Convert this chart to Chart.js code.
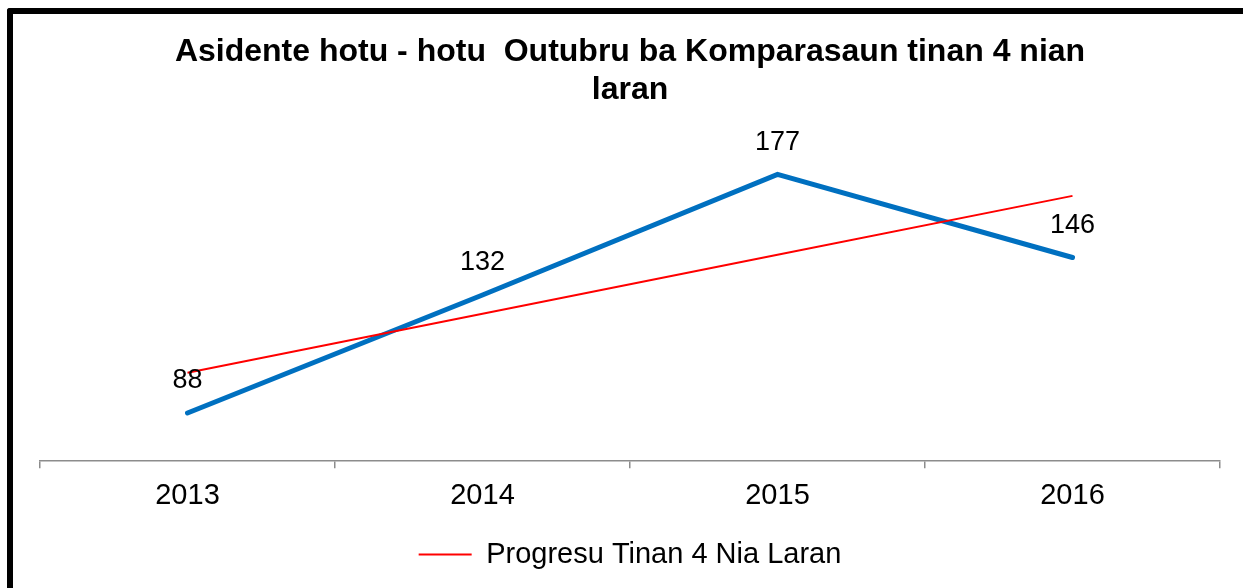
<!DOCTYPE html>
<html lang="tet">
<head>
<meta charset="utf-8">
<script src="https://cdn.jsdelivr.net/npm/chart.js@4.4.1/dist/chart.umd.min.js"></script>
<style>
  html, body { margin: 0; padding: 0; background: #fff; overflow: hidden; }
  .frame {
    position: absolute; left: 7px; top: 8px; width: 1400px; height: 800px;
    border-top: 6px solid #000; border-left: 6px solid #000;
    border-top-left-radius: 3px;
  }
  .chart-box { position: absolute; left: 0; top: 0; width: 1243px; height: 588px; }
</style>
</head>
<body>
<div class="frame"></div>
<div class="chart-box"><canvas id="chart"></canvas></div>
<script>
  const years = ['2013', '2014', '2015', '2016'];
  const accidents = [88, 132, 177, 146];
  // linha vermelha
  const progress = [103, 125, 147, 169];
  const titleLines = ['Asidente hotu - hotu  Outubru ba Komparasaun tinan 4 nian', 'laran'];

  const FONT = "'Liberation Sans', Arial, sans-serif";

  // etiketa valor iha leten pontu sira
  const valueLabels = {
    id: 'valueLabels',
    afterDatasetsDraw(chart) {
      const ctx = chart.ctx;
      const meta = chart.getDatasetMeta(1);
      ctx.save();
      ctx.font = '27px ' + FONT;
      ctx.fillStyle = '#000';
      ctx.textAlign = 'center';
      ctx.textBaseline = 'middle';
      meta.data.forEach((pt, i) => {
        ctx.fillText(String(accidents[i]), pt.x, pt.y - 32);
      });
      ctx.restore();
    }
  };

  new Chart(document.getElementById('chart'), {
    type: 'line',
    data: {
      labels: years,
      datasets: [
        {
          label: 'Progresu Tinan 4 Nia Laran',
          data: progress,
          borderColor: '#FF0000',
          backgroundColor: '#FF0000',
          borderWidth: 2,
          pointRadius: 0,
          tension: 0
        },
        {
          label: 'Asidente',
          data: accidents,
          borderColor: '#0070C0',
          backgroundColor: '#0070C0',
          borderWidth: 5,
          borderCapStyle: 'round',
          borderJoinStyle: 'miter',
          pointRadius: 0,
          tension: 0
        }
      ]
    },
    options: {
      responsive: true,
      maintainAspectRatio: false,
      animation: false,
      layout: { padding: { left: 40, right: 23, top: 0, bottom: 9 } },
      scales: {
        y: { display: false, min: 70, max: 200 },
        x: {
          offset: true,
          afterFit(scale) { scale.height += 7; },
          grid: {
            offset: true,
            drawOnChartArea: false,
            drawTicks: true,
            tickLength: 7,
            color: '#8C8C8C',
            lineWidth: 1.5
          },
          border: { display: true, color: '#8C8C8C', width: 1.5 },
          ticks: { color: '#000', padding: 10, font: { family: FONT, size: 29 } }
        }
      },
      plugins: {
        title: {
          display: true,
          text: titleLines,
          color: '#000',
          font: { family: FONT, size: 32, weight: 'bold', lineHeight: 1.2 },
          padding: { top: 33, bottom: 3 }
        },
        legend: {
          position: 'bottom',
          labels: {
            filter: item => item.datasetIndex === 0,
            usePointStyle: true,
            pointStyle: 'line',
            pointStyleWidth: 53,
            color: '#000',
            font: { family: FONT, size: 29 },
            padding: 10
          }
        },
        tooltip: { enabled: false }
      }
    },
    plugins: [valueLabels]
  });
</script>
</body>
</html>
